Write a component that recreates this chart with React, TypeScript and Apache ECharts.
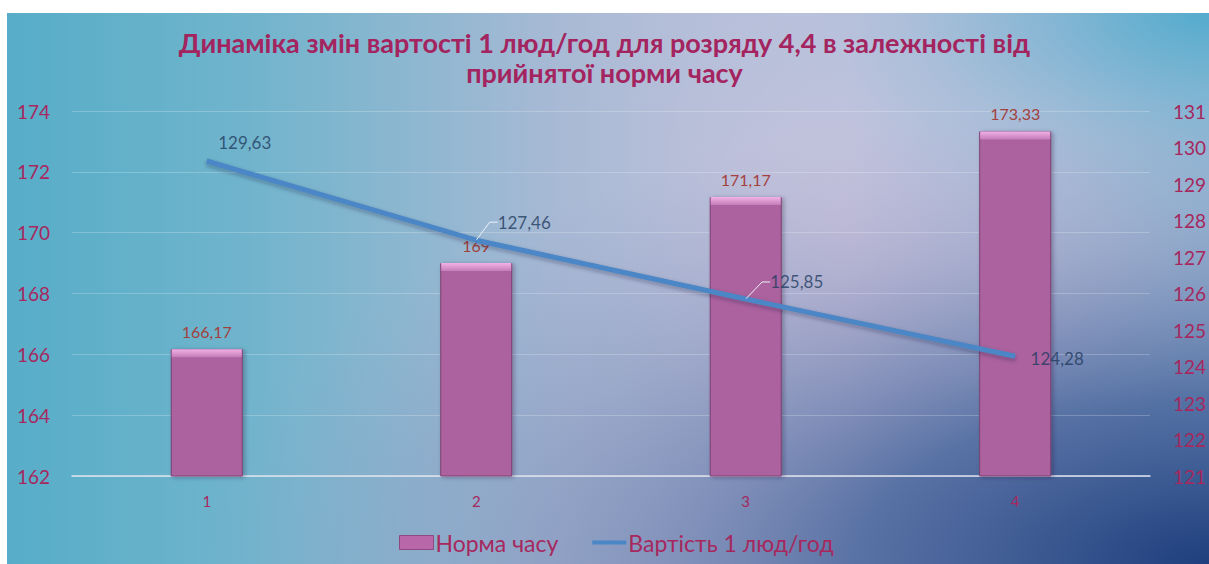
import React, { useEffect, useRef } from "react";
import * as echarts from "echarts";

const titleText = "Динаміка змін вартості 1 люд/год для розряду 4,4 в залежності від\nприйнятої норми часу";
const categories = ["1", "2", "3", "4"];
const seriesNames = ["Норма часу", "Вартість 1 люд/год"];
const normValues = [166.17, 169, 171.17, 173.33];
const costValues = [129.63, 127.46, 125.85, 124.28];
const leftAxis = { min: 162, max: 174, interval: 2 };
const rightAxis = { min: 121, max: 131, interval: 1 };
const lineLabelShift = [
  [38, -5],
  [48, -4],
  [51, -3],
  [42, 16],
];
const lineLabelGuide = [false, true, true, false];

const fmt = (v: number) => String(v).replace(".", ",");

export default function App() {
  const ref = useRef<HTMLDivElement>(null);
  useEffect(() => {
    document.body.style.margin = "0";
    const chart = echarts.init(ref.current!, null, { renderer: "svg" });
    const font = "Lato, 'Open Sans', sans-serif";
    const axisColor = "#a6285e";
    chart.setOption({
      animation: false,
      textStyle: { fontFamily: font },
      graphic: [
        {
          type: "rect",
          z: -10,
          shape: { x: 7, y: 13, width: 1202, height: 551 },
          style: {
            fill: new echarts.graphic.LinearGradient(0, 0, 1, 0, [
              { offset: 0, color: "#57adc8" },
              { offset: 0.2, color: "#70b4cc" },
              { offset: 0.45, color: "#a6b9d4" },
              { offset: 0.7, color: "#cdc5de" },
              { offset: 0.88, color: "#bcc2db" },
              { offset: 1, color: "#9dbcd6" },
            ]),
          },
        },
        {
          type: "rect",
          z: -9,
          shape: { x: 7, y: 13, width: 1202, height: 551 },
          style: {
            fill: new echarts.graphic.RadialGradient(1, 0, 0.5, [
              { offset: 0, color: "rgba(80,170,205,0.95)" },
              { offset: 0.5, color: "rgba(120,180,210,0.35)" },
              { offset: 1, color: "rgba(160,190,220,0)" },
            ]),
          },
        },
        {
          type: "rect",
          z: -8,
          shape: { x: 7, y: 13, width: 1202, height: 551 },
          style: {
            fill: new echarts.graphic.RadialGradient(1, 1, 0.85, [
              { offset: 0, color: "rgba(30,62,125,1)" },
              { offset: 0.35, color: "rgba(70,100,155,0.85)" },
              { offset: 0.7, color: "rgba(120,135,180,0.35)" },
              { offset: 1, color: "rgba(150,160,200,0)" },
            ]),
          },
        },
      ],
      title: {
        text: titleText,
        left: "center",
        top: 22,
        textStyle: {
          color: "#a3245e",
          fontSize: 27,
          fontWeight: "bold",
          lineHeight: 30,
          fontFamily: font,
        },
      },
      legend: {
        bottom: 5,
        left: 394,
        itemGap: 34,
        itemWidth: 34,
        itemHeight: 14,
        textStyle: { color: axisColor, fontSize: 23, fontFamily: font, padding: [0, 0, 0, -3] },
        data: [
          {
            name: seriesNames[0],
            icon: "rect",
            itemStyle: { color: "#b867a9", borderColor: "#8e4882", borderWidth: 1 },
          },
          { name: seriesNames[1], icon: "path://M0,0H34V4H0Z" },
        ],
      },
      grid: { left: 72, right: 57, top: 111, bottom: 88 },
      xAxis: {
        type: "category",
        data: categories,
        axisTick: { show: false },
        axisLine: { lineStyle: { color: "#dfe3ee", width: 1.5 } },
        axisLabel: { color: axisColor, fontSize: 15, margin: 17 },
      },
      yAxis: [
        {
          type: "value",
          ...leftAxis,
          axisLabel: { color: axisColor, fontSize: 19, margin: 22 },
          splitLine: { lineStyle: { color: "rgba(255,255,255,0.22)", width: 1 } },
        },
        {
          type: "value",
          ...rightAxis,
          axisLabel: { color: axisColor, fontSize: 19, margin: 23 },
          splitLine: { show: false },
        },
      ],
      series: [
        {
          name: seriesNames[0],
          type: "bar",
          data: normValues,
          barWidth: 72,
          z: 2,
          itemStyle: {
            color: "#ab629e",
            borderColor: "#7e4174",
            borderWidth: 1,
            shadowColor: "rgba(40,30,60,0.35)",
            shadowBlur: 4,
            shadowOffsetX: 2,
            shadowOffsetY: 1,
          },
          label: {
            show: true,
            position: "top",
            distance: 10,
            color: "#a3413d",
            fontSize: 16,
            formatter: (p: any) => fmt(p.value),
          },
        },
        {
          name: "bevel",
          type: "pictorialBar",
          data: normValues,
          symbol: "rect",
          symbolSize: [70, 8],
          symbolPosition: "end",
          symbolOffset: [0, 0],
          barWidth: 72,
          z: 3,
          silent: true,
          itemStyle: {
            color: new echarts.graphic.LinearGradient(0, 0, 0, 1, [
              { offset: 0, color: "#f2b2e6" },
              { offset: 1, color: "#c47cb8" },
            ]),
          },
        },
        {
          name: seriesNames[1],
          type: "line",
          yAxisIndex: 1,
          data: costValues,
          symbol: "none",
          z: 4,
          lineStyle: {
            color: "#4b86c6",
            width: 5,
            shadowColor: "rgba(20,30,60,0.35)",
            shadowBlur: 4,
            shadowOffsetY: 2,
          },
          itemStyle: { color: "#4b86c6" },
        },
        {
          name: "lineLabels",
          type: "scatter",
          yAxisIndex: 1,
          z: 5,
          symbolSize: 1,
          silent: true,
          itemStyle: { color: "rgba(0,0,0,0)" },
          data: costValues.map((v, i) => ({
            value: v,
            labelLine: { show: lineLabelGuide[i] },
          })),
          label: {
            show: true,
            position: "top",
            color: "#1f3b5e",
            fontSize: 17,
            formatter: (p: any) => fmt(p.value),
          },
          labelLine: {
            show: false,
            length2: 8,
            lineStyle: { color: "#eef2f8", width: 1 },
          },
          labelLayout: (p: any) => ({
            dx: lineLabelShift[p.dataIndex][0],
            dy: lineLabelShift[p.dataIndex][1],
          }),
        },
      ],
    });
    return () => chart.dispose();
  }, []);
  return (
    <div
      ref={ref}
      style={{ position: "absolute", left: 0, top: 0, width: 1209, height: 564, background: "#fff" }}
    />
  );
}
